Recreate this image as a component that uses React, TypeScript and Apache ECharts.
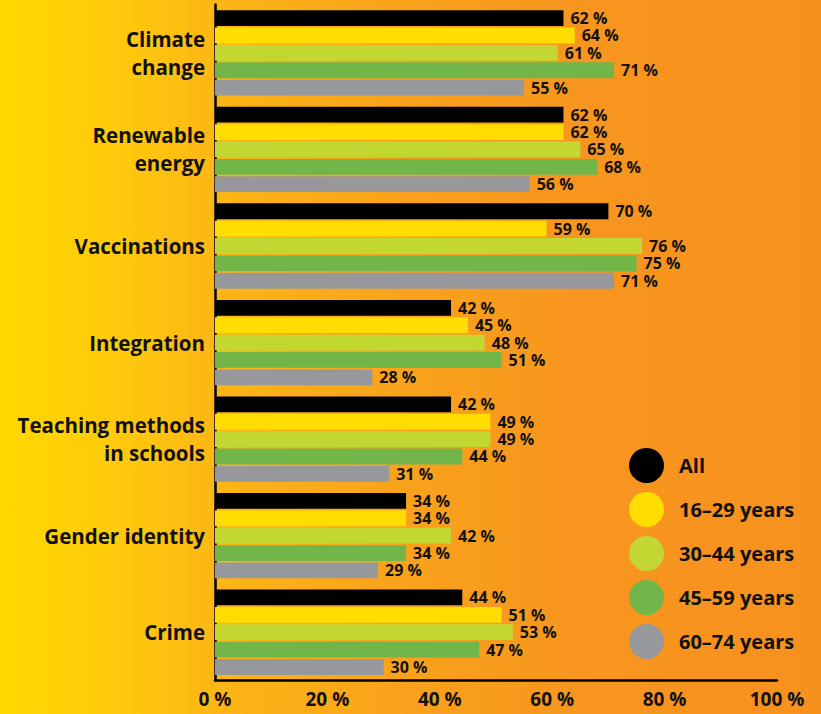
import React, { useEffect, useRef } from "react";
import * as echarts from "echarts";

const categories = [
  "Climate\nchange",
  "Renewable\nenergy",
  "Vaccinations",
  "Integration",
  "Teaching methods\nin schools",
  "Gender identity",
  "Crime",
];
const seriesNames = ["All", "16–29 years", "30–44 years", "45–59 years", "60–74 years"];
const allValues = [62, 62, 70, 42, 42, 34, 44];
const age16to29 = [64, 62, 59, 45, 49, 34, 51];
const age30to44 = [61, 65, 76, 48, 49, 42, 53];
const age45to59 = [71, 68, 75, 51, 44, 34, 47];
const age60to74 = [55, 56, 71, 28, 31, 29, 30];
const xTicks = [0, 20, 40, 60, 80, 100];
const colors = ["#000000", "#FFDD00", "#C2D732", "#72B64A", "#97989B"];

const FONT = "'Open Sans', 'DejaVu Sans', sans-serif";

export default function App() {
  const ref = useRef<HTMLDivElement>(null);
  useEffect(() => {
    if (!ref.current) return;
    const chart = echarts.init(ref.current, null, { renderer: "svg" });
    const data = [allValues, age16to29, age30to44, age45to59, age60to74];
    chart.setOption({
      animation: false,
      backgroundColor: "transparent",
      textStyle: { fontFamily: FONT },
      grid: { left: 215, right: 44, top: 4.6, bottom: 33.5, containLabel: false },
      legend: {
        orient: "vertical",
        left: 624,
        top: 443,
        icon: "circle",
        itemWidth: 35,
        itemHeight: 35,
        itemGap: 9,
        data: seriesNames,
        textStyle: {
          fontFamily: FONT,
          fontSize: 20,
          fontWeight: "bold",
          color: "#111",
          padding: [0, 0, 0, 10],
        },
      },
      xAxis: {
        type: "value",
        min: xTicks[0],
        max: xTicks[xTicks.length - 1],
        interval: 20,
        splitLine: { show: false },
        axisTick: { show: false },
        axisLine: { show: true, lineStyle: { color: "#000", width: 2.5 } },
        axisLabel: {
          formatter: (v: number) => `${v} %`,
          fontFamily: FONT,
          fontSize: 19,
          lineHeight: 20,
          fontWeight: "bold",
          color: "#111",
          margin: 8,
        },
      },
      yAxis: {
        type: "category",
        inverse: true,
        data: categories,
        axisTick: { show: false },
        axisLine: { show: true, lineStyle: { color: "#000", width: 2.5 } },
        axisLabel: {
          fontFamily: FONT,
          fontSize: 20.5,
          fontWeight: "bold",
          color: "#111",
          lineHeight: 28,
          margin: 10,
          align: "right",
          padding: [5, 0, 0, 0],
        },
      },
      series: seriesNames.map((name, i) => ({
        name,
        type: "bar",
        data: data[i],
        barWidth: 15.8,
        barGap: "10%",
        itemStyle: { color: colors[i] },
        label: {
          show: true,
          position: "right",
          distance: 7,
          formatter: "{c} %",
          fontFamily: FONT,
          fontSize: 16,
          lineHeight: 16,
          fontWeight: "bold",
          color: "#111",
        },
      })),
    });
    return () => chart.dispose();
  }, []);
  return (
    <div
      style={{
        position: "absolute",
        left: 0,
        top: 0,
        width: 821,
        height: 714,
        background:
          "linear-gradient(to right, #FFD800 0%, #FEC90C 15%, #FCB416 28%, #F9A11C 50%, #F7961E 70%, #F7911E 100%)",
      }}
    >
      <div ref={ref} style={{ width: 821, height: 714 }} />
    </div>
  );
}
